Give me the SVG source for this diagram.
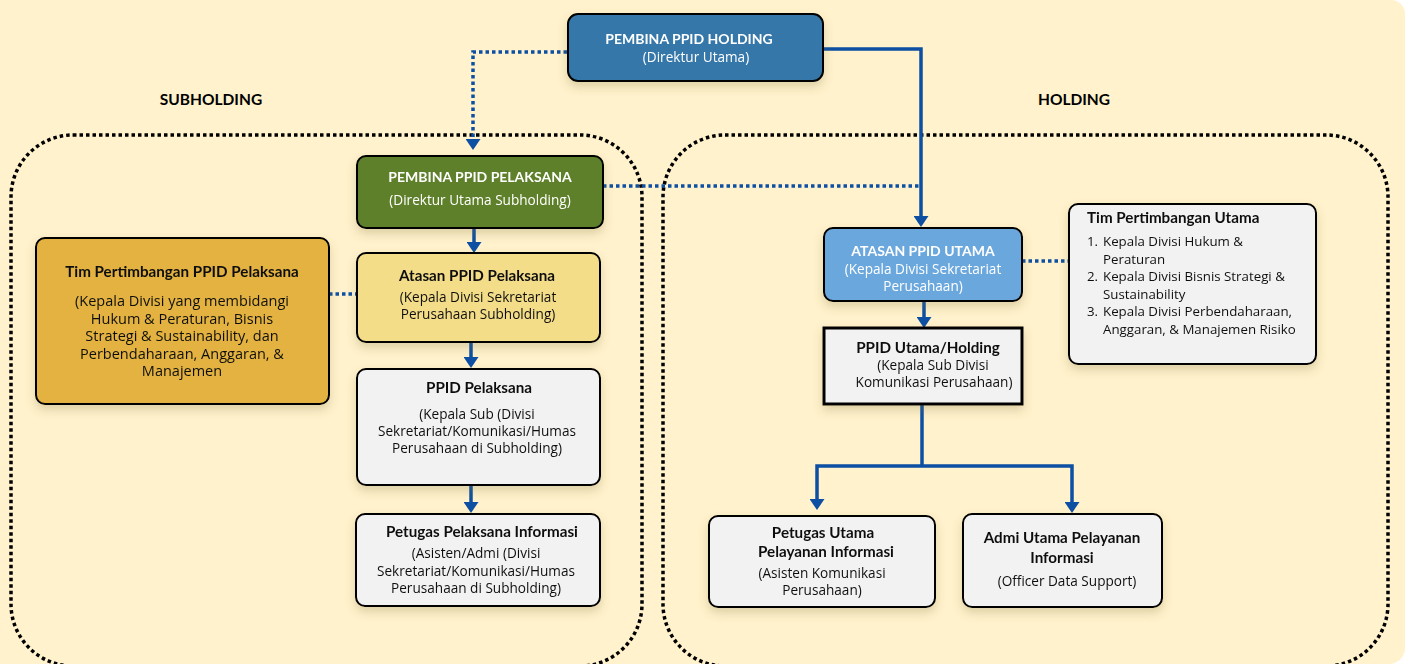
<svg xmlns="http://www.w3.org/2000/svg" width="1405" height="664" viewBox="0 0 1405 664">
<defs>
<style>
.bg{fill:#FFF2CC}
.cont{fill:none;stroke:#000;stroke-width:3.5;stroke-dasharray:3.5 3}
.box{stroke:#000;stroke-width:2}
.sh{filter:url(#shadow)}
.ln{fill:none;stroke:#0D4FA3;stroke-width:3.5;stroke-linejoin:miter}
.dot{fill:none;stroke:#0D4FA3;stroke-width:3.5;stroke-dasharray:3.5 3}
.arr{marker-end:url(#ah)}
.t{font-family:Lato,"Liberation Sans",sans-serif;font-weight:700;font-size:15.2px;fill:#111;text-anchor:middle}
.c{font-size:14px}
.b{font-family:"Open Sans","Liberation Sans",sans-serif;font-size:13.6px;fill:#111;text-anchor:middle}
.bl{font-size:14.5px}
.bs{font-size:13.3px}
.w{fill:#fff}
.l{text-anchor:start}
.hd{font-family:Lato,"Liberation Sans",sans-serif;font-weight:700;font-size:15.5px;fill:#000;text-anchor:middle}
</style>
<filter id="shadow" x="-20%" y="-20%" width="140%" height="160%">
<feDropShadow dx="0" dy="5" stdDeviation="5" flood-color="#7a6a30" flood-opacity="0.25"/>
</filter>
<marker id="ah" viewBox="0 0 11 15" markerWidth="11" markerHeight="15" refX="3" refY="7.5" orient="auto" markerUnits="userSpaceOnUse">
<path d="M0,0 L11,7.5 L0,15 z" fill="#0D4FA3"/>
</marker>
</defs>
<path class="bg" d="M0 0 H1391 A14 14 0 0 1 1405 14 V648 A16 16 0 0 1 1389 664 H0 Z"/>

<g id="containers">
<rect class="cont" x="11" y="135" width="631" height="531" rx="62"/>
<rect class="cont" x="663" y="135" width="725" height="531" rx="62"/>
<text class="hd" x="211" y="105">SUBHOLDING</text>
<text class="hd" x="1074" y="105">HOLDING</text>
</g>

<g id="connectors">
<path class="dot arr" d="M567 52 H473 V142"/>
<path class="ln arr" d="M823 49 H921 V219"/>
<path class="dot" d="M603 186 H920"/>
<path class="ln arr" d="M474 228 V245"/>
<path class="dot" d="M329 294 H357"/>
<path class="ln arr" d="M471 343 V360"/>
<path class="ln arr" d="M471 486 V505"/>
<path class="dot" d="M1022 261 H1069"/>
<path class="ln arr" d="M924 302 V320"/>
<path class="ln" d="M922 405 V466"/>
<path class="ln arr" d="M922 466 H817 V502"/>
<path class="ln arr" d="M922 466 H1072 V505"/>
</g>

<g id="pembina-holding" class="sh">
<rect class="box" x="568" y="14" width="255" height="67" rx="10" fill="#3577A9"/>
<text class="t c w" x="689" y="44">PEMBINA PPID HOLDING</text>
<text class="b w" x="696" y="62">(Direktur Utama)</text>
</g>

<g id="pembina-pelaksana" class="sh">
<rect class="box" x="357" y="156" width="246" height="72" rx="9" fill="#5F8029"/>
<text class="t c w" x="480" y="182">PEMBINA PPID PELAKSANA</text>
<text class="b w" x="480" y="205">(Direktur Utama Subholding)</text>
</g>

<g id="tim-pelaksana" class="sh">
<rect class="box" x="36" y="238" width="293" height="166" rx="9" fill="#E3B23F"/>
<text class="t" x="182" y="277">Tim Pertimbangan PPID Pelaksana</text>
<text class="b bl" x="182" y="306">(Kepala Divisi yang membidangi</text>
<text class="b bl" x="182" y="323.5">Hukum &amp; Peraturan, Bisnis</text>
<text class="b bl" x="182" y="341">Strategi &amp; Sustainability, dan</text>
<text class="b bl" x="182" y="358.5">Perbendaharaan, Anggaran, &amp;</text>
<text class="b bl" x="182" y="376">Manajemen</text>
</g>

<g id="atasan-pelaksana" class="sh">
<rect class="box" x="357" y="253" width="243" height="89" rx="9" fill="#F4DD88"/>
<text class="t" x="477" y="281">Atasan PPID Pelaksana</text>
<text class="b" x="478" y="302">(Kepala Divisi Sekretariat</text>
<text class="b" x="478" y="319">Perusahaan Subholding)</text>
</g>

<g id="ppid-pelaksana" class="sh">
<rect class="box" x="357" y="369" width="243" height="116" rx="9" fill="#F2F2F2"/>
<text class="t" x="479" y="393">PPID Pelaksana</text>
<text class="b" x="477" y="419">(Kepala Sub (Divisi</text>
<text class="b" x="477" y="436">Sekretariat/Komunikasi/Humas</text>
<text class="b" x="477" y="453">Perusahaan di Subholding)</text>
</g>

<g id="petugas-pelaksana" class="sh">
<rect class="box" x="356" y="514" width="244" height="92" rx="9" fill="#F2F2F2"/>
<text class="t" x="482" y="537">Petugas Pelaksana Informasi</text>
<text class="b" x="476" y="558">(Asisten/Admi (Divisi</text>
<text class="b" x="476" y="575.5">Sekretariat/Komunikasi/Humas</text>
<text class="b" x="476" y="593">Perusahaan di Subholding)</text>
</g>

<g id="atasan-utama" class="sh">
<rect class="box" x="824" y="228" width="198" height="73" rx="9" fill="#6BA7DD"/>
<text class="t c w" x="923" y="256">ATASAN PPID UTAMA</text>
<text class="b w" x="923" y="274">(Kepala Divisi Sekretariat</text>
<text class="b w" x="923" y="291">Perusahaan)</text>
</g>

<g id="tim-utama" class="sh">
<rect class="box" x="1069" y="204" width="247" height="160" rx="9" fill="#F2F2F2"/>
<text class="t l" x="1087" y="223">Tim Pertimbangan Utama</text>
<text class="b bs l" x="1087" y="246">1.</text>
<text class="b bs l" x="1103" y="246">Kepala Divisi Hukum &amp;</text>
<text class="b bs l" x="1103" y="263.5">Peraturan</text>
<text class="b bs l" x="1087" y="281">2.</text>
<text class="b bs l" x="1103" y="281">Kepala Divisi Bisnis Strategi &amp;</text>
<text class="b bs l" x="1103" y="298.5">Sustainability</text>
<text class="b bs l" x="1087" y="316">3.</text>
<text class="b bs l" x="1103" y="316">Kepala Divisi Perbendaharaan,</text>
<text class="b bs l" x="1103" y="333.5">Anggaran, &amp; Manajemen Risiko</text>
</g>

<g id="ppid-utama" class="sh">
<rect x="824" y="328" width="198" height="76" fill="#F2F2F2" stroke="#000" stroke-width="3"/>
<text class="t" x="928" y="353">PPID Utama/Holding</text>
<text class="b" x="933" y="370">(Kepala Sub Divisi</text>
<text class="b" x="934" y="387">Komunikasi Perusahaan)</text>
</g>

<g id="petugas-utama" class="sh">
<rect class="box" x="709" y="516" width="226" height="91" rx="9" fill="#F2F2F2"/>
<text class="t" x="823" y="538">Petugas Utama</text>
<text class="t" x="826" y="557">Pelayanan Informasi</text>
<text class="b" x="822" y="578">(Asisten Komunikasi</text>
<text class="b" x="822" y="595">Perusahaan)</text>
</g>

<g id="admi-utama" class="sh">
<rect class="box" x="963" y="514" width="199" height="93" rx="9" fill="#F2F2F2"/>
<text class="t" x="1062" y="543">Admi Utama Pelayanan</text>
<text class="t" x="1062" y="563">Informasi</text>
<text class="b" x="1067" y="586">(Officer Data Support)</text>
</g>
</svg>
